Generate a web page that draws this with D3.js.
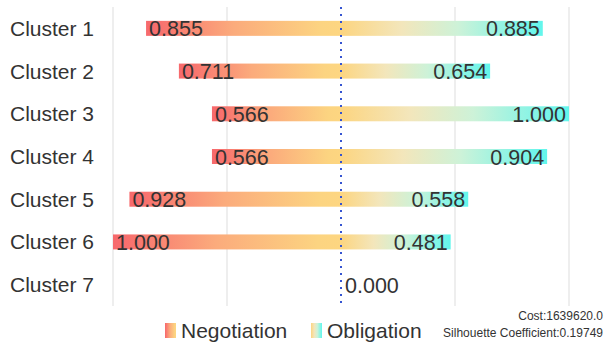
<!DOCTYPE html>
<html>
<head>
<meta charset="utf-8">
<script src="https://cdn.jsdelivr.net/npm/d3@7"></script>
<style>
body { margin: 0; background: #fff; }
svg { font-family: "Liberation Sans", Arial, sans-serif; }
</style>
</head>
<body>
<div id="chart"></div>
<script>
var clusters = ["Cluster 1", "Cluster 2", "Cluster 3", "Cluster 4", "Cluster 5", "Cluster 6", "Cluster 7"];
var negotiation = [0.855, 0.711, 0.566, 0.566, 0.928, 1.000, 0.000];
var obligation = [0.885, 0.654, 1.000, 0.904, 0.558, 0.481, 0.000];
var gridTicks = [-1, -0.5, 0, 0.5, 1];
var costText = "Cost:1639620.0";
var silText = "Silhouette Coefficient:0.19749";

var width = 605, height = 346;
var svg = d3.select("#chart").append("svg")
	.attr("width", width)
	.attr("height", height);

var xScale = d3.scaleLinear().domain([-1, 1]).range([113, 569]);
var yScale = d3.scaleBand().domain(clusters).range([7, 306]);
var barH = 15;

var defs = svg.append("defs");
function grad(id, stops) {
	var g = defs.append("linearGradient").attr("id", id)
		.attr("x1", "0").attr("y1", "0").attr("x2", "1").attr("y2", "0");
	stops.forEach(function(s){
		g.append("stop").attr("offset", s[0]).attr("stop-color", s[1]);
	});
}
grad("negGrad", [[0, "#f76a6d"], [0.03, "#f76b6d"], [0.45, "#fbab7c"], [0.9, "#fcd481"], [1, "#fdd681"]]);
grad("oblGrad", [[0, "#fcd581"], [0.3, "#f3e6bb"], [0.58, "#cdf2d8"], [0.85, "#86f4e6"], [1, "#62f6ec"]]);

// grid lines
svg.selectAll(".grid")
	.data(gridTicks.filter(function(d){ return d !== 0; }))
	.enter().append("line")
	.attr("x1", function(d){ return xScale(d); })
	.attr("x2", function(d){ return xScale(d); })
	.attr("y1", 7).attr("y2", 306)
	.attr("stroke", "#e3e3e3")
	.attr("stroke-width", 1.2);

// category labels
svg.selectAll(".cat")
	.data(clusters)
	.enter().append("text")
	.attr("x", 10)
	.attr("y", function(d){ return yScale(d) + yScale.bandwidth() / 2 + 7.5; })
	.attr("font-size", 21)
	.attr("fill", "#333")
	.text(function(d){ return d; });

// negotiation bars (left)
svg.selectAll(".neg")
	.data(negotiation)
	.enter().append("rect")
	.attr("x", function(d){ return xScale(-d); })
	.attr("y", function(d, i){ return yScale(clusters[i]) + yScale.bandwidth() / 2 - barH / 2; })
	.attr("width", function(d){ return xScale(0) - xScale(-d); })
	.attr("height", barH)
	.attr("fill", "url(#negGrad)");

// obligation bars (right)
svg.selectAll(".obl")
	.data(obligation)
	.enter().append("rect")
	.attr("x", xScale(0))
	.attr("y", function(d, i){ return yScale(clusters[i]) + yScale.bandwidth() / 2 - barH / 2; })
	.attr("width", function(d){ return xScale(d) - xScale(0); })
	.attr("height", barH)
	.attr("fill", "url(#oblGrad)");

// center dotted line
svg.append("line")
	.attr("x1", xScale(0)).attr("x2", xScale(0))
	.attr("y1", 7).attr("y2", 306)
	.attr("stroke", "#3554d1")
	.attr("stroke-width", 2)
	.attr("stroke-dasharray", "2,5");

var fmt = d3.format(".3f");
for (var i = 0; i < clusters.length; i++) {
	var cy = yScale(clusters[i]) + yScale.bandwidth() / 2 + 8;
	if (negotiation[i] === 0 && obligation[i] === 0) {
		svg.append("text")
			.attr("x", xScale(0) + 4)
			.attr("y", cy)
			.attr("font-size", 21.5)
			.attr("fill", "#333")
			.text(fmt(0));
		continue;
	}
	svg.append("text")
		.attr("x", xScale(-negotiation[i]) + 3)
		.attr("y", cy)
		.attr("font-size", 21.5)
		.attr("fill", "#333")
		.text(fmt(negotiation[i]));
	svg.append("text")
		.attr("x", xScale(obligation[i]) - 3)
		.attr("y", cy)
		.attr("text-anchor", "end")
		.attr("font-size", 21.5)
		.attr("fill", "#333")
		.text(fmt(obligation[i]));
}

// legend
var legend = [
	{name: "Negotiation", fill: "url(#negGrad)", x: 165},
	{name: "Obligation", fill: "url(#oblGrad)", x: 311}
];
legend.forEach(function(l){
	svg.append("rect")
		.attr("x", l.x).attr("y", 323)
		.attr("width", 11).attr("height", 15)
		.attr("fill", l.fill);
	svg.append("text")
		.attr("x", l.x + 16)
		.attr("y", 338)
		.attr("font-size", 21)
		.attr("fill", "#333")
		.text(l.name);
});

svg.append("text")
	.attr("x", 603).attr("y", 320)
	.attr("text-anchor", "end")
	.attr("font-size", 12)
	.attr("fill", "#333")
	.text(costText);
svg.append("text")
	.attr("x", 603).attr("y", 337)
	.attr("text-anchor", "end")
	.attr("font-size", 12)
	.attr("fill", "#333")
	.text(silText);
</script>
</body>
</html>
